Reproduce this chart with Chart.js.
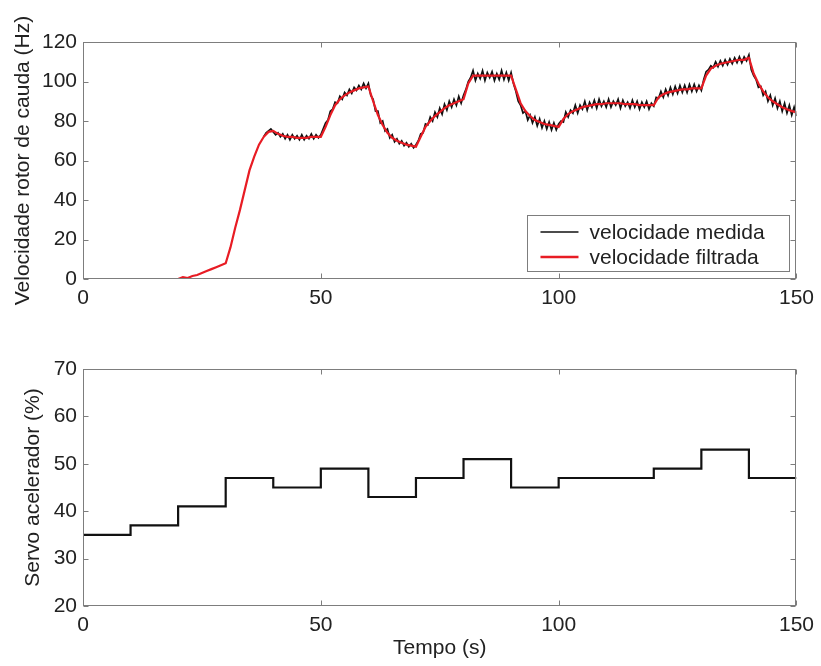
<!DOCTYPE html>
<html>
<head>
<meta charset="utf-8">
<script src="https://cdn.jsdelivr.net/npm/chart.js@4"></script>
<style>
  body { margin: 0; background: #fff; }
  #wrap { position: relative; width: 821px; height: 666px; }
  #top-box { position: absolute; left: 0; top: 0; width: 821px; height: 330px; }
  #bottom-box { position: absolute; left: 0; top: 330px; width: 821px; height: 336px; }
</style>
</head>
<body>
<div id="wrap">
  <div id="top-box"><canvas id="speed-chart" width="821" height="330"></canvas></div>
  <div id="bottom-box"><canvas id="servo-chart" width="821" height="336"></canvas></div>
</div>
<script>
// Filtered speed (Hz), one sample per second from t = 0 to 150 s
const filteredSpeed = [
  0, 0, 0, 0, 0, 0, 0, 0, 0, 0, 0, 0, 0, 0, 0, 0, 0, 0, 0, 0,
  0, 1, 0.5, 1.5, 2, 3, 4, 5, 6, 7,
  8, 16, 26, 35, 45, 55, 62, 68, 72, 74.5,
  75, 73.5, 72.5, 72, 72, 71.5, 71.5, 71.5, 72, 72,
  72, 77, 83, 88, 91, 93, 94.5, 95.5, 96.5, 97,
  97.5, 90, 83, 78, 74, 71.5, 70, 69, 68, 67.5,
  67, 72, 77, 80, 82.5, 84.5, 86.5, 88, 89, 90,
  91, 99, 103, 103, 103, 103, 103, 103, 103, 103,
  103, 96, 89, 85, 82.5, 80.5, 79.5, 78.5, 78, 77.5,
  77, 81, 83.5, 85, 86, 87, 87.5, 88, 88.5, 88.5,
  89, 89, 89, 89, 88.5, 88.5, 88.5, 88, 88, 88,
  88, 92, 93.5, 94.5, 95, 95.5, 96, 96, 96.5, 96.5,
  96.5, 103, 106.5, 108, 109, 109.5, 110, 110.5, 111, 111,
  112, 104, 99, 95, 92, 90, 88.5, 87, 86, 85,
  84.5
];
const filteredStart = 0;
const filteredStep = 1;

// Measured speed (Hz), sampled every 0.5 s from t = 38 s (before that it sits under the red line)
const measuredSpeed = [
  72, 74, 75, 76, 74.5, 73, 74, 72, 73.5, 71, 73, 70.5, 73, 71, 72.5, 70.5, 73, 70.5, 72.5, 71, 73.5, 71, 73, 71.5, 73,
  76, 79, 80.5, 85, 86, 89.5, 89, 92.5, 91, 94.5, 93, 96, 94, 97, 95.5, 98, 96, 99, 96.5, 99,
  93, 91, 85, 85, 79, 80, 75, 76, 71.5, 73, 69.5, 71, 68.5, 70, 67.5, 69, 67, 68.5, 66.5, 68,
  70, 73.5, 74, 78.5, 78, 82, 80, 84.5, 82, 86.5, 83.5, 88.5, 85.5, 90, 87, 91, 88, 92.5, 89, 93,
  96, 100, 102, 105.5, 100.5, 104, 101.5, 105.5, 100.5, 104.5, 102, 105, 100.5, 104, 101, 105.5, 101, 104.5, 100.5, 104.5,
  99, 95, 90, 88, 84, 85, 80.5, 83, 79, 82, 77.5, 81, 76.5, 80, 76, 79.5, 75.5, 79, 75.5, 78.5,
  80, 79.5, 84.5, 82, 85.5, 84, 88, 84, 88, 86, 90, 85.5, 89.5, 87, 90.5, 86.5, 91, 87.5, 90, 87,
  91, 87, 90, 88, 91, 86.5, 90.5, 87.5, 89.5, 86.5, 90.5, 87, 90, 86, 89.5, 87, 90, 86, 89, 87.5,
  92, 91.5, 95, 92, 96, 93, 97, 93.5, 97.5, 94, 98, 94.5, 98, 94.5, 98.5, 95, 98.5, 95, 98, 95.5,
  101, 105, 106, 108, 107, 110, 107.5, 110.5, 108, 111, 108.5, 111.5, 109, 112, 109.5, 112.5, 109.5, 112.5, 110.5, 113.5,
  106, 103, 101, 97, 97.5, 93, 95, 90, 93, 88, 91.5, 86.5, 90, 85, 89, 84, 88, 83, 87, 82.5
];
const measuredStart = 38;
const measuredStep = 0.5;

// Throttle servo command (%), held from each time until the next
const servoTimes = [0, 10, 20, 30, 40, 50, 60, 70, 80, 90, 100, 110, 120, 130, 140, 150];
const servoValues = [35, 37, 41, 47, 45, 49, 43, 47, 51, 45, 47, 47, 49, 53, 47, 47];

const speedTicks = [0, 20, 40, 60, 80, 100, 120];
const servoTicks = [20, 30, 40, 50, 60, 70];
const timeTicks = [0, 50, 100, 150];

const RED = 'rgb(232, 28, 36)';
const TEXT = '#222';
const FRAME = '#7d7d7d';
const TICK_LEN = 5;

Chart.defaults.font.family = '"Liberation Sans", Arial, Helvetica, sans-serif';
Chart.defaults.font.size = 21;
Chart.defaults.color = TEXT;

function toPoints(values, start, step) {
    return values.map((v, i) => ({ x: start + i * step, y: v }));
}

// MATLAB-like box with inward ticks on all four sides
const matlabFrame = {
    id: 'matlabFrame',
    afterDatasetsDraw(chart) {
        const { ctx, chartArea: a, scales: { x, y } } = chart;
        const l = Math.round(a.left) + 0.5, r = Math.round(a.right) - 0.5;
        const t = Math.round(a.top) + 0.5, b = Math.round(a.bottom) - 0.5;
        ctx.save();
        ctx.strokeStyle = FRAME;
        ctx.lineWidth = 1;
        ctx.beginPath();
        x.ticks.forEach(tk => {
            const px = Math.round(x.getPixelForValue(tk.value)) + 0.5;
            ctx.moveTo(px, b); ctx.lineTo(px, b - TICK_LEN);
            ctx.moveTo(px, t); ctx.lineTo(px, t + TICK_LEN);
        });
        y.ticks.forEach(tk => {
            const py = Math.round(y.getPixelForValue(tk.value)) + 0.5;
            ctx.moveTo(l, py); ctx.lineTo(l + TICK_LEN, py);
            ctx.moveTo(r, py); ctx.lineTo(r - TICK_LEN, py);
        });
        ctx.stroke();
        ctx.strokeRect(l, t, r - l, b - t);
        ctx.restore();
    }
};

// legend drawn inside the plot, bottom right, boxed
const insideLegend = {
    id: 'insideLegend',
    afterDraw(chart, args, opts) {
        const { ctx, chartArea: a } = chart;
        const w = opts.width, h = opts.height;
        const bx = a.right - opts.right - w;
        const by = a.bottom - opts.bottom - h;
        ctx.save();
        ctx.fillStyle = '#fff';
        ctx.fillRect(bx, by, w, h);
        ctx.strokeStyle = FRAME;
        ctx.lineWidth = 1;
        ctx.strokeRect(Math.round(bx) + 0.5, Math.round(by) + 0.5, w, h);
        ctx.font = '21px "Liberation Sans", Arial, sans-serif';
        ctx.textBaseline = 'middle';
        chart.data.datasets.forEach((ds, i) => {
            const rowY = by + opts.firstRow + i * opts.rowGap;
            ctx.strokeStyle = ds.borderColor;
            ctx.lineWidth = i === 0 ? 1.5 : 2.5;
            ctx.beginPath();
            ctx.moveTo(bx + 13, rowY);
            ctx.lineTo(bx + 51, rowY);
            ctx.stroke();
            ctx.fillStyle = TEXT;
            ctx.fillText(ds.label, bx + 62, rowY + 1);
        });
        ctx.restore();
    }
};

function axisX(height, withTitle) {
    return {
        type: 'linear',
        min: 0,
        max: 150,
        afterBuildTicks: (s) => { s.ticks = timeTicks.map(v => ({ value: v })); },
        afterFit: (s) => { s.height = height; },
        grid: { display: false, drawTicks: false },
        border: { display: false },
        ticks: { padding: 7, maxRotation: 0, color: TEXT },
        title: { display: withTitle, text: 'Tempo (s)', padding: 0, color: TEXT }
    };
}

function axisY(min, max, tickList, width, title) {
    return {
        type: 'linear',
        min: min,
        max: max,
        afterBuildTicks: (s) => { s.ticks = tickList.map(v => ({ value: v })); },
        afterFit: (s) => { s.width = width; },
        grid: { display: false, drawTicks: false },
        border: { display: false },
        ticks: { padding: 6, color: TEXT },
        title: { display: true, text: title, padding: 0, color: TEXT }
    };
}

new Chart(document.getElementById('speed-chart'), {
    type: 'line',
    data: {
        datasets: [
            {
                label: 'velocidade medida',
                data: toPoints(measuredSpeed, measuredStart, measuredStep),
                borderColor: '#111',
                borderWidth: 1.7,
                pointRadius: 0,
                tension: 0,
                order: 1
            },
            {
                label: 'velocidade filtrada',
                data: toPoints(filteredSpeed, filteredStart, filteredStep),
                borderColor: RED,
                borderWidth: 2.2,
                pointRadius: 0,
                tension: 0,
                order: 0
            }
        ]
    },
    options: {
        responsive: false,
        animation: false,
        layout: { padding: { top: 42, right: 23, left: 11, bottom: 0 } },
        plugins: {
            legend: { display: false },
            tooltip: { enabled: false },
            insideLegend: { width: 262, height: 56, right: 7, bottom: 8, firstRow: 17, rowGap: 25 }
        },
        scales: {
            x: axisX(51, false),
            y: axisY(0, 120, speedTicks, 72, 'Velocidade rotor de cauda (Hz)')
        }
    },
    plugins: [matlabFrame, insideLegend]
});

new Chart(document.getElementById('servo-chart'), {
    type: 'line',
    data: {
        datasets: [{
            label: 'Servo acelerador',
            data: servoTimes.map((t, i) => ({ x: t, y: servoValues[i] })),
            borderColor: '#111',
            borderWidth: 2.2,
            pointRadius: 0,
            stepped: 'before'
        }]
    },
    options: {
        responsive: false,
        animation: false,
        layout: { padding: { top: 39, right: 23, left: 21, bottom: 5 } },
        plugins: {
            legend: { display: false },
            tooltip: { enabled: false }
        },
        scales: {
            x: axisX(55, true),
            y: axisY(20, 70, servoTicks, 62, 'Servo acelerador (%)')
        }
    },
    plugins: [matlabFrame]
});
</script>
</body>
</html>
